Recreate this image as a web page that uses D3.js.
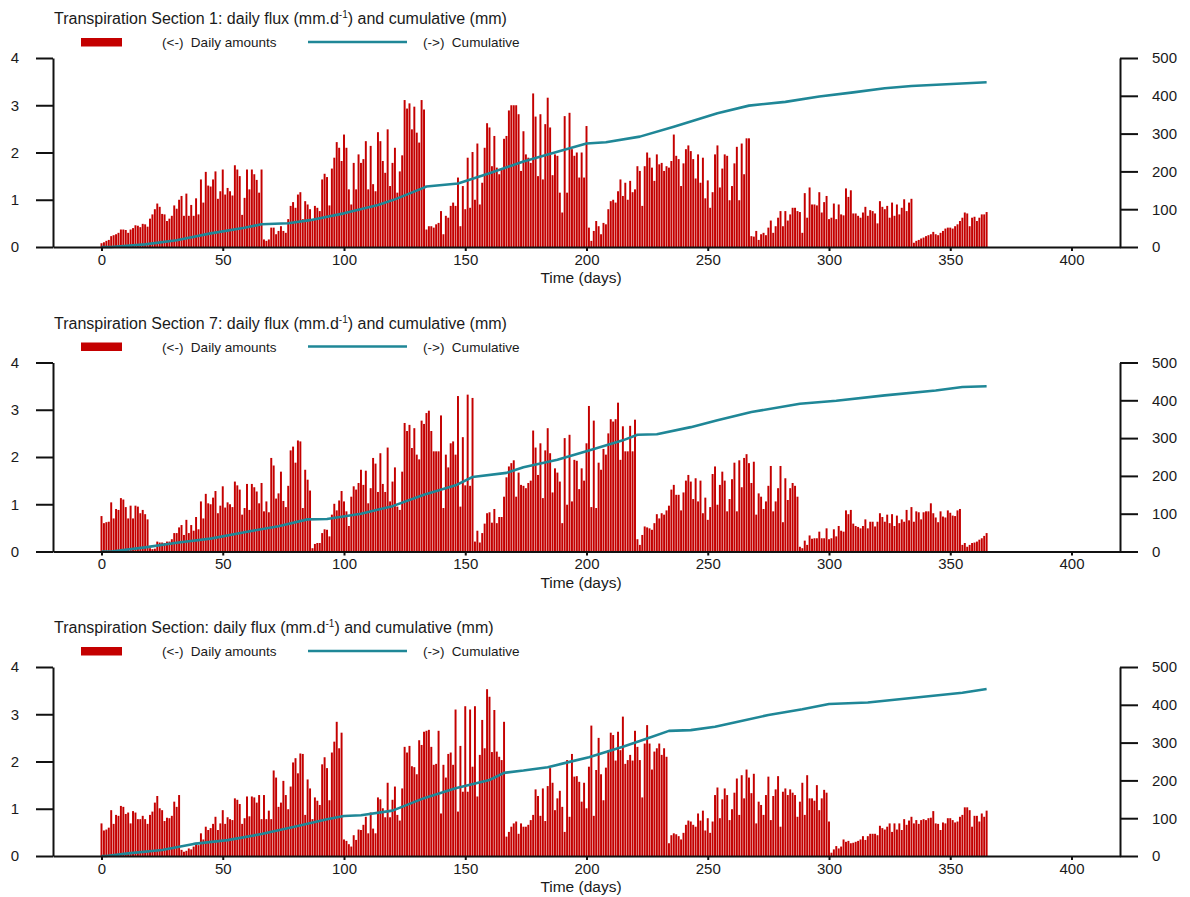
<!DOCTYPE html>
<html>
<head>
<meta charset="utf-8">
<script src="https://cdn.jsdelivr.net/npm/d3@7/dist/d3.min.js"></script>
<style>
    body { margin: 0; background: #fff; }
    svg text { font-family: "Liberation Sans", Arial, sans-serif; fill: #1a1a1a; }
</style>
</head>
<body>
<div id="chart"></div>
<script>
// day index 0..365, one bar per day
var days = d3.range(0, 366);

var sectionNames = ["Transpiration Section 1", "Transpiration Section 7", "Transpiration Section"];

var xTicks = [0, 50, 100, 150, 200, 250, 300, 350, 400],
    dailyTicks = [0, 1, 2, 3, 4],
    cumulTicks = [0, 100, 200, 300, 400, 500];

// daily amounts (mm/d)
var dailySection1 = [
    0.08, 0.1, 0.13, 0.15, 0.23, 0.25, 0.27, 0.3, 0.37, 0.37,
    0.36, 0.3, 0.37, 0.4, 0.46, 0.45, 0.42, 0.49, 0.48, 0.43,
    0.6, 0.69, 0.8, 0.92, 0.85, 0.7, 0.69, 0.55, 0.6, 0.66,
    0.88, 0.81, 1.0, 1.08, 0.66, 1.13, 0.66, 0.89, 0.66, 1.03,
    0.69, 1.43, 0.94, 1.59, 1.3, 1.28, 1.43, 1.6, 1.02, 1.18,
    1.64, 1.11, 1.25, 1.18, 1.09, 1.73, 1.64, 1.5, 0.68, 1.04,
    1.64, 1.22, 1.64, 1.54, 1.42, 1.15, 1.64, 0.16, 0.13, 0.16,
    0.41, 0.41, 0.27, 0.34, 0.44, 0.34, 0.3, 0.59, 0.87, 0.95,
    0.83, 1.11, 1.16, 0.59, 0.97, 0.9, 0.8, 0.55, 0.87, 0.83,
    0.76, 1.43, 1.55, 1.48, 0.88, 1.66, 1.89, 2.22, 2.1, 1.82,
    2.38, 2.1, 1.22, 0.9, 1.78, 1.22, 1.96, 1.78, 1.86, 2.24,
    1.22, 2.14, 1.33, 1.18, 2.43, 2.24, 1.82, 1.57, 2.49, 1.29,
    1.78, 2.1, 1.15, 1.6, 1.94, 3.11, 2.93, 3.04, 2.49, 2.97,
    2.42, 2.21, 3.11, 2.91, 0.37, 0.44, 0.44, 0.41, 0.48, 0.51,
    0.76, 0.27, 0.66, 0.62, 0.87, 0.94, 0.87, 1.47, 0.44, 1.29,
    0.8, 1.89, 0.83, 2.01, 1.0, 2.19, 0.9, 1.36, 2.1, 2.62,
    2.53, 1.71, 2.35, 1.68, 1.54, 1.64, 2.29, 2.35, 2.89, 3.0,
    3.0, 3.0, 2.81, 1.61, 2.45, 1.96, 1.89, 1.78, 3.25, 2.76,
    1.5, 2.81, 1.43, 2.6, 3.16, 2.53, 1.52, 1.96, 1.93, 1.15,
    0.73, 2.77, 1.15, 2.84, 2.07, 1.93, 2.0, 1.47, 2.0, 1.47,
    2.56, 0.41, 0.13, 0.34, 0.55, 0.44, 0.27, 0.51, 0.48, 0.8,
    0.97, 1.0, 0.94, 1.18, 1.43, 1.08, 1.36, 1.0, 1.4, 1.16,
    1.22, 1.71, 1.61, 0.87, 1.71, 2.0, 1.89, 1.68, 1.4, 1.96,
    1.75, 1.78, 1.61, 1.71, 1.68, 1.82, 2.38, 1.93, 1.86, 1.29,
    1.77, 2.07, 2.15, 2.03, 1.86, 1.45, 1.96, 1.36, 1.89, 1.03,
    1.41, 0.83, 1.16, 1.96, 2.15, 1.26, 1.66, 1.96, 1.93, 0.99,
    1.29, 1.77, 2.12, 0.99, 2.19, 1.54, 2.3, 2.3, 0.23, 0.22,
    0.34, 0.15, 0.27, 0.3, 0.25, 0.41, 0.56, 0.3, 0.44, 0.62,
    0.76, 0.44, 0.76, 0.56, 0.69, 0.83, 0.83, 0.76, 0.74, 0.3,
    1.14, 0.62, 1.26, 0.9, 0.9, 0.88, 1.16, 0.73, 0.95, 1.08,
    0.59, 0.62, 0.92, 0.59, 0.9, 0.69, 0.67, 1.24, 1.06, 1.2,
    0.71, 0.71, 0.66, 0.62, 0.73, 0.85, 0.66, 0.78, 0.76, 0.71,
    0.5, 0.97, 0.85, 0.8, 0.87, 0.62, 0.94, 0.66, 0.9, 0.69,
    0.83, 1.01, 0.76, 0.94, 1.02, 0.09, 0.13, 0.15, 0.18, 0.2,
    0.23, 0.25, 0.27, 0.32, 0.27, 0.25, 0.3, 0.34, 0.39, 0.41,
    0.41, 0.39, 0.44, 0.48, 0.55, 0.62, 0.73, 0.71, 0.44, 0.62,
    0.64, 0.55, 0.62, 0.69, 0.69, 0.74
];

var dailySection7 = [
    0.75, 0.6, 0.62, 0.63, 1.04, 0.7, 0.9, 0.88, 1.13, 1.1,
    0.94, 0.7, 0.97, 0.7, 0.97, 0.95, 0.81, 0.88, 0.79, 0.68,
    0.07, 0.05, 0.06, 0.21, 0.19, 0.19, 0.18, 0.21, 0.21, 0.26,
    0.39, 0.39, 0.51, 0.56, 0.35, 0.67, 0.39, 0.56, 0.44, 0.73,
    0.47, 1.06, 0.7, 1.22, 1.02, 1.0, 1.14, 1.28, 0.81, 0.97,
    1.38, 0.93, 1.04, 1.0, 0.94, 1.48, 1.4, 1.31, 0.78, 0.92,
    1.43, 0.88, 1.43, 1.36, 1.27, 1.02, 1.45, 0.85, 1.06, 0.83,
    1.98, 1.82, 1.12, 1.23, 1.69, 1.07, 0.94, 1.39, 2.14, 2.22,
    1.88, 2.35, 2.33, 0.92, 1.73, 1.52, 1.29, 0.07, 0.16, 0.18,
    0.18, 0.39, 0.47, 0.46, 0.32, 0.78, 1.01, 0.87, 1.08, 1.28,
    1.06, 0.85, 0.54, 1.16, 1.38, 1.31, 1.45, 1.73, 1.41, 1.71,
    1.02, 1.34, 1.98, 1.86, 1.26, 2.08, 1.43, 1.26, 2.2, 1.06,
    1.48, 1.78, 0.95, 0.88, 1.69, 2.72, 2.55, 2.68, 2.19, 2.61,
    2.05, 1.95, 2.77, 2.7, 2.93, 2.98, 2.55, 2.12, 2.12, 2.12,
    2.88, 0.92, 2.05, 1.78, 2.29, 2.33, 2.05, 3.29, 0.95, 2.42,
    1.4, 3.32, 1.39, 3.25, 0.21, 0.44, 0.19, 0.39, 0.59, 0.81,
    0.83, 0.61, 0.9, 0.6, 0.73, 0.73, 1.16, 1.57, 1.8, 1.87,
    1.93, 1.16, 1.67, 1.41, 1.39, 1.34, 1.45, 1.5, 2.56, 2.2,
    1.62, 2.29, 1.13, 2.14, 2.61, 2.08, 1.25, 1.76, 1.67, 1.48,
    0.6, 2.4, 0.99, 2.47, 1.06, 1.94, 1.92, 1.32, 1.76, 1.5,
    2.29, 3.08, 0.94, 2.77, 0.92, 1.88, 1.73, 2.17, 2.05, 2.5,
    2.8, 2.75, 2.8, 3.15, 1.94, 2.65, 2.12, 2.12, 2.66, 2.12,
    2.79, 0.26, 0.14, 0.35, 0.53, 0.51, 0.49, 0.46, 0.6, 0.79,
    0.7, 0.81, 0.78, 0.87, 0.97, 1.31, 1.41, 1.2, 1.2, 0.87,
    1.25, 1.5, 1.62, 1.48, 1.11, 1.55, 1.06, 1.5, 0.81, 1.14,
    0.67, 0.94, 1.64, 1.8, 0.99, 1.41, 1.69, 1.5, 0.85, 1.11,
    1.53, 1.88, 0.85, 1.93, 1.36, 1.98, 2.06, 1.87, 1.45, 1.9,
    0.78, 1.23, 1.16, 0.9, 1.06, 1.39, 1.81, 0.85, 1.06, 1.34,
    1.81, 0.62, 1.55, 1.09, 1.34, 1.45, 1.39, 1.16, 0.1, 0.07,
    0.23, 0.14, 0.34, 0.27, 0.28, 0.28, 0.42, 0.28, 0.28, 0.49,
    0.26, 0.28, 0.47, 0.32, 0.54, 0.44, 0.42, 0.87, 0.79, 0.88,
    0.59, 0.54, 0.52, 0.49, 0.54, 0.68, 0.49, 0.63, 0.63, 0.53,
    0.63, 0.81, 0.73, 0.63, 0.78, 0.6, 0.79, 0.54, 0.76, 0.6,
    0.68, 0.63, 0.88, 0.66, 0.94, 0.63, 0.85, 0.83, 0.68, 0.83,
    0.85, 0.85, 1.02, 0.81, 0.72, 0.62, 0.85, 0.74, 0.72, 0.87,
    0.82, 0.76, 0.75, 0.87, 0.9, 0.14, 0.18, 0.1, 0.14, 0.18,
    0.19, 0.21, 0.25, 0.28, 0.33, 0.39
];

var dailySection = [
    0.69, 0.54, 0.56, 0.6, 0.97, 0.68, 0.87, 0.85, 1.06, 1.04,
    0.89, 0.92, 0.69, 0.95, 0.92, 0.78, 0.78, 0.85, 0.78, 0.68,
    0.87, 0.94, 1.13, 1.27, 1.01, 0.97, 0.74, 0.81, 0.8, 0.85,
    1.15, 1.04, 1.29, 0.13, 0.09, 0.11, 0.16, 0.14, 0.2, 0.28,
    0.23, 0.48, 0.35, 0.62, 0.55, 0.59, 0.68, 0.83, 0.55, 0.69,
    0.97, 0.68, 0.82, 0.78, 0.76, 1.22, 1.19, 1.1, 0.68, 0.8,
    1.26, 0.84, 1.26, 1.24, 1.13, 1.29, 0.78, 1.29, 0.78, 0.96,
    0.78, 1.81, 1.66, 1.04, 1.13, 1.59, 1.29, 0.99, 1.47, 1.98,
    2.07, 1.75, 2.17, 2.16, 0.87, 1.62, 1.43, 0.78, 1.24, 1.17,
    1.08, 1.94, 2.09, 1.86, 1.18, 2.19, 2.42, 2.84, 2.28, 2.61,
    0.35, 0.32, 0.25, 0.2, 0.44, 0.34, 0.56, 0.55, 0.66, 0.83,
    0.48, 0.92, 0.58, 0.48, 1.24, 1.2, 1.01, 0.82, 1.55, 0.82,
    1.19, 1.47, 0.87, 0.75, 1.43, 2.31, 2.19, 2.33, 1.9, 1.88,
    1.73, 2.45, 2.35, 2.63, 2.65, 2.67, 2.31, 1.93, 1.95, 2.65,
    0.9, 1.93, 1.66, 2.16, 2.19, 1.93, 3.1, 0.94, 2.33, 1.36,
    3.17, 1.36, 3.1, 1.89, 3.17, 1.26, 2.14, 2.88, 2.28, 3.53,
    3.37, 2.2, 3.09, 2.21, 2.1, 2.03, 2.84, 0.41, 0.51, 0.62,
    0.69, 0.73, 0.47, 0.69, 0.62, 0.62, 0.66, 0.76, 0.87, 1.41,
    1.27, 0.85, 1.43, 0.74, 1.48, 1.86, 1.55, 0.97, 1.22, 1.38,
    1.04, 0.51, 2.03, 0.83, 2.16, 1.68, 1.69, 1.57, 1.15, 1.55,
    1.01, 1.89, 2.76, 0.85, 1.82, 2.5, 1.73, 1.18, 1.87, 2.24,
    2.61, 2.56, 2.02, 2.63, 2.24, 2.95, 1.95, 2.03, 2.14, 2.02,
    2.65, 2.31, 2.03, 1.24, 2.38, 2.77, 2.38, 1.83, 2.21, 2.28,
    2.38, 2.14, 2.28, 2.1, 0.27, 0.44, 0.48, 0.46, 0.42, 0.35,
    0.49, 0.66, 0.75, 0.73, 0.66, 0.62, 0.9, 0.75, 0.96, 0.54,
    0.8, 0.49, 0.73, 1.29, 1.45, 0.8, 1.2, 1.43, 1.29, 0.76,
    0.99, 1.34, 1.64, 0.87, 1.71, 1.22, 1.83, 1.66, 1.33, 1.74,
    0.69, 1.15, 1.08, 0.87, 1.29, 1.68, 0.76, 1.27, 1.41, 1.69,
    0.62, 1.36, 1.43, 1.29, 1.41, 1.34, 1.29, 0.83, 1.15, 1.55,
    0.87, 1.71, 1.22, 1.22, 1.17, 1.5, 0.97, 1.22, 1.4, 1.34,
    0.73, 0.07, 0.14, 0.21, 0.16, 0.2, 0.35, 0.3, 0.32, 0.27,
    0.28, 0.3, 0.32, 0.35, 0.42, 0.34, 0.42, 0.47, 0.47, 0.47,
    0.44, 0.64, 0.59, 0.56, 0.62, 0.69, 0.51, 0.69, 0.56, 0.69,
    0.55, 0.78, 0.66, 0.75, 0.83, 0.69, 0.76, 0.68, 0.76, 0.78,
    0.76, 0.8, 0.81, 0.95, 0.69, 0.68, 0.55, 0.71, 0.69, 0.8,
    0.8, 0.76, 0.71, 0.73, 0.83, 0.87, 1.03, 1.03, 0.97, 0.62,
    0.85, 0.85, 0.73, 0.9, 0.83, 0.96
];

// cumulative (mm) as [day, value]
var cumulSection1 = [[0, 0], [4, 0], [18, 7], [31, 18], [45, 36], [59, 51], [66, 60], [77, 63],
    [86, 71], [100, 89], [114, 111], [121, 126], [133, 157], [134, 160], [147, 168], [160, 195],
    [174, 226], [188, 252], [200, 274], [208, 277], [222, 292], [236, 318], [241, 328], [254, 354],
    [267, 374], [282, 384], [296, 398], [310, 409], [323, 420], [334, 426], [365, 436]];

var cumulSection7 = [[0, 0], [4, 0], [18, 11], [31, 23], [45, 34], [59, 51], [73, 67], [85, 85],
    [93, 86], [107, 100], [120, 120], [133, 150], [146, 175], [153, 197], [167, 208], [174, 223],
    [188, 243], [201, 267], [215, 294], [221, 309], [229, 310], [243, 329], [254, 347], [268, 369],
    [288, 391], [303, 399], [323, 413], [344, 426], [355, 435], [365, 437]];

var cumulSection = [[0, 0], [2, 0], [11, 7], [25, 16], [38, 32], [52, 42], [66, 58], [80, 78],
    [93, 97], [100, 106], [107, 108], [120, 120], [133, 153], [146, 179], [160, 201], [166, 220],
    [174, 226], [184, 235], [193, 249], [201, 261], [215, 289], [225, 311], [234, 331], [243, 333],
    [253, 342], [261, 353], [275, 373], [289, 388], [300, 402], [316, 406], [337, 420], [355, 432],
    [365, 442]];

var dailySeries = [dailySection1, dailySection7, dailySection],
    cumulSeries = [cumulSection1, cumulSection7, cumulSection];

// settings
var width = 1190, height = 897,
    panelStep = 304.5,
    plotLeft = 53, plotRight = 1120,
    plotTop = 58, plotBottom = 247,
    barColor = "#c40000",
    lineColor = "#1f8797",
    barWidth = 1.95;

var svg = d3.select("#chart").append("svg")
    .attr("width", width)
    .attr("height", height);

var x = d3.scaleLinear().domain([-20, 420]).range([plotLeft, plotRight]);

sectionNames.forEach(function(name, i) {
    var oy = i * panelStep,
        yDaily = d3.scaleLinear().domain([0, 4]).range([plotBottom + oy, plotTop + oy]),
        yCumul = d3.scaleLinear().domain([0, 500]).range([plotBottom + oy, plotTop + oy]),
        g = svg.append("g").attr("class", "panel");

    // title with superscript
    var title = g.append("text")
        .attr("x", 54)
        .attr("y", 24 + oy)
        .style("font-size", "16px");
    title.append("tspan").text(name + ": daily flux (mm.d");
    title.append("tspan").text("-1").attr("dy", -6).style("font-size", "10px");
    title.append("tspan").text(") and cumulative (mm)").attr("dy", 6);

    // legend
    g.append("rect")
        .attr("x", 81).attr("y", 38 + oy)
        .attr("width", 41).attr("height", 8.5)
        .style("fill", barColor);
    g.append("text")
        .attr("x", 162).attr("y", 47 + oy)
        .attr("xml:space", "preserve")
        .style("font-size", "13.5px")
        .text("(<-)  Daily amounts");
    g.append("line")
        .attr("x1", 308).attr("x2", 407)
        .attr("y1", 42 + oy).attr("y2", 42 + oy)
        .style("stroke", lineColor)
        .style("stroke-width", 2.5);
    g.append("text")
        .attr("x", 423).attr("y", 47 + oy)
        .attr("xml:space", "preserve")
        .style("font-size", "13.5px")
        .text("(->)  Cumulative");

    // daily bars
    var daily = dailySeries[i];
    g.selectAll(".bar")
        .data(days)
        .enter().append("rect")
            .attr("class", "bar")
            .attr("x", function(d) { return x(d) - barWidth / 2; })
            .attr("y", function(d) { return yDaily(daily[d]); })
            .attr("width", barWidth)
            .attr("height", function(d) { return yDaily(0) - yDaily(daily[d]); })
            .style("fill", barColor);

    // cumulative line
    var line = d3.line()
        .x(function(d) { return x(d[0]); })
        .y(function(d) { return yCumul(d[1]); });
    g.append("path")
        .datum(cumulSeries[i])
        .attr("d", line)
        .style("fill", "none")
        .style("stroke", lineColor)
        .style("stroke-width", 2.6)
        .style("stroke-linejoin", "round");

    // axes
    var axisLeft = g.append("g")
        .attr("transform", "translate(" + plotLeft + ",0)")
        .call(d3.axisLeft(yDaily).tickValues(dailyTicks).tickFormat(d3.format("d"))
            .tickSize(17).tickSizeOuter(0).tickPadding(17));
    var axisRight = g.append("g")
        .attr("transform", "translate(" + plotRight + ",0)")
        .call(d3.axisRight(yCumul).tickValues(cumulTicks).tickSize(18).tickSizeOuter(0).tickPadding(14));
    var axisBottom = g.append("g")
        .attr("transform", "translate(0," + (plotBottom + oy) + ")")
        .call(d3.axisBottom(x).tickValues(xTicks).tickSize(4).tickSizeOuter(0).tickPadding(3));

    [axisLeft, axisRight, axisBottom].forEach(function(a) {
        a.selectAll("path, line").style("stroke", "#111").style("stroke-width", 2);
        a.selectAll("text").style("font-size", "15px").style("fill", "#1a1a1a")
            .style("font-family", "\"Liberation Sans\", Arial, sans-serif");
    });

    g.append("text")
        .attr("x", 581)
        .attr("y", 283 + oy)
        .style("text-anchor", "middle")
        .style("font-size", "15.5px")
        .text("Time (days)");
});
</script>
</body>
</html>
